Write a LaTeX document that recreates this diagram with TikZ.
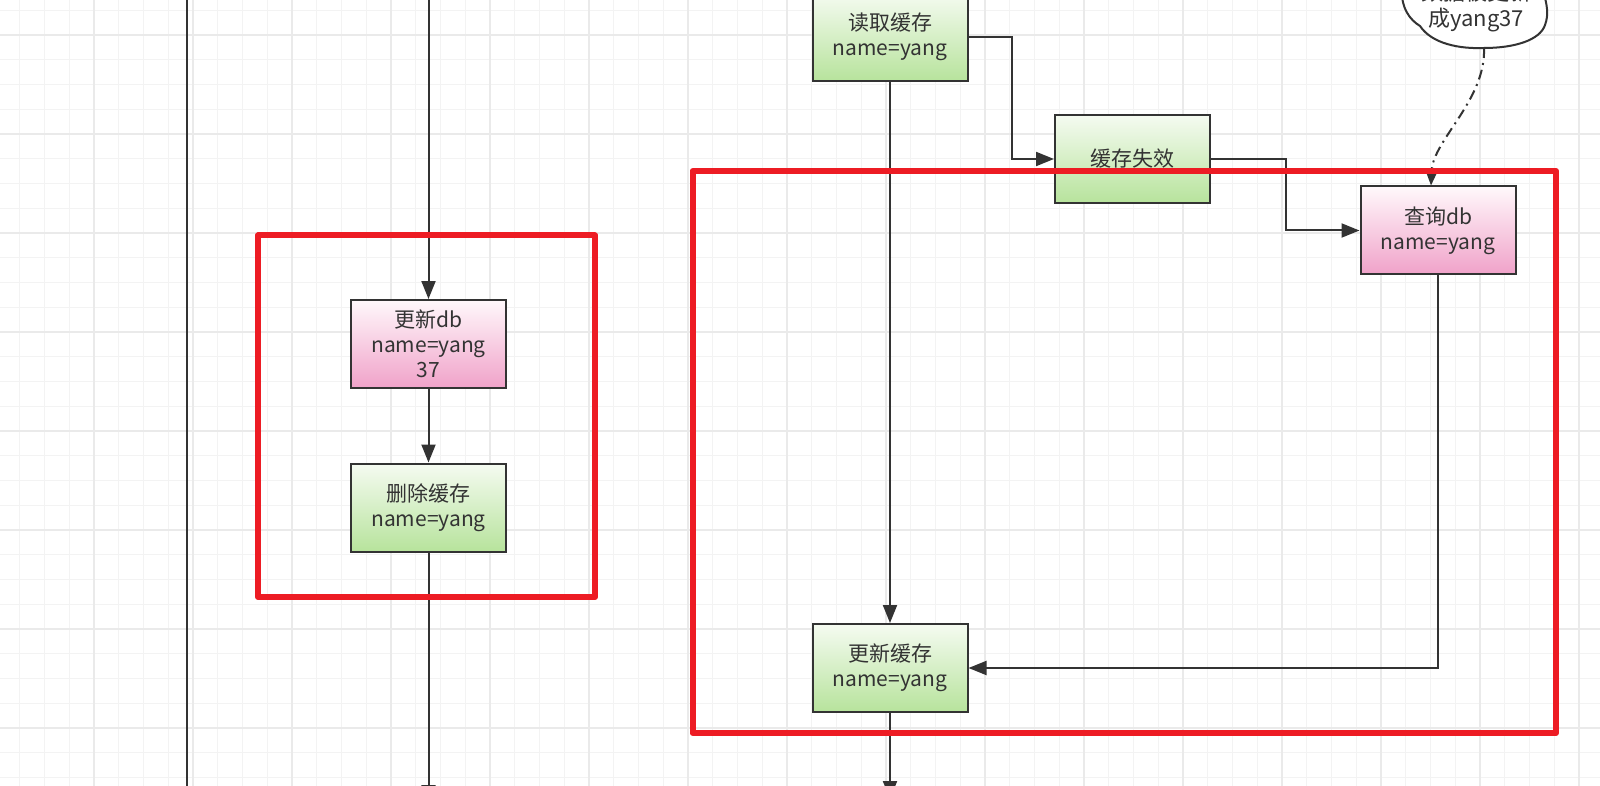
\documentclass[tikz,border=0pt]{standalone}
\usepackage{fontspec}
\newfontfamily\cjk{Noto Sans CJK SC}
\usetikzlibrary{arrows.meta}
\definecolor{gridminor}{HTML}{F3F3F3}
\definecolor{gridmajor}{HTML}{EAEAEA}
\definecolor{ink}{HTML}{333333}
\definecolor{redbox}{RGB}{237,28,36}
\definecolor{greentop}{HTML}{F5FBF1}
\definecolor{greenbot}{HTML}{B7E39C}
\definecolor{pinktop}{HTML}{FFF8FB}
\definecolor{pinkbot}{HTML}{F0A2C9}
\tikzset{
  minorline/.style={gridminor, line width=1.3pt},
  majorline/.style={gridmajor, line width=1.6pt},
  box/.style={draw=ink, line width=2pt, minimum width=155pt, minimum height=88pt,
    inner sep=0pt, align=center, text=ink, font=\cjk\fontsize{21}{25}\selectfont},
  greenbox/.style={box, top color=greentop, bottom color=greenbot},
  pinkbox/.style={box, top color=pinktop, bottom color=pinkbot},
  conn/.style={draw=ink, line width=2pt, -{Triangle[length=18pt,width=14pt]}},
  redframe/.style={draw=redbox, line width=6pt, line join=round},
  dashdot/.style={draw=ink, line width=2pt, dash pattern=on 10pt off 5pt on 2pt off 5pt,
    -{Triangle[length=15pt,width=12pt]}},
}
\begin{document}
\begin{tikzpicture}[x=1pt,y=-1pt]
\useasboundingbox (0,0) rectangle (1600,786);
\clip (0,0) rectangle (1600,786);
\fill[white] (0,0) rectangle (1600,786);
% grid
\foreach \i in {0,...,65} {
  \draw[minorline] ({19.75+\i*24.75},0) -- ({19.75+\i*24.75},786);
}
\foreach \i in {0,...,32} {
  \draw[minorline] (0,{10.25+\i*24.75}) -- (1600,{10.25+\i*24.75});
}
\foreach \i in {0,...,16} {
  \draw[majorline] ({-5+\i*99},0) -- ({-5+\i*99},786);
}
\foreach \i in {0,...,8} {
  \draw[majorline] (0,{35+\i*99}) -- (1600,{35+\i*99});
}
% lane line
\coordinate (laneTop) at (187,-5);
\coordinate (laneBot) at (187,790);
\draw[ink, line width=2pt] (laneTop) -- (laneBot);

% left column
\node[pinkbox] (udb) at (428.5,344) {更新db\\name=yang\\37};
\node[greenbox] (dc) at (428.5,507.5) {删除缓存\\name=yang};
\coordinate (leftTop) at (428.5,-5);
\coordinate (leftBot) at (428.5,803);
\draw[conn] (leftTop) -- (udb.north);
\draw[conn] (udb.south) -- (dc.north);
\draw[conn] (dc.south) -- (leftBot);

% right column
\node[greenbox] (rc) at (890,37) {读取缓存\\name=yang};
\node[greenbox] (inv) at (1132.5,159) {缓存失效};
\node[pinkbox] (qdb) at (1438,230.5) {查询db\\name=yang};
\node[greenbox] (upc) at (890,668) {更新缓存\\name=yang};
\coordinate (rightBot) at (890,799);
\draw[conn] (rc.east) -- ++(43,0) |- (inv.west);
\draw[conn] (inv.east) -- ++(75,0) |- (qdb.west);
\draw[conn] (qdb.south) |- (upc.east);
\draw[conn] (rc.south) -- (upc.north);
\draw[conn] (upc.south) -- (rightBot);

% cloud
\path[draw=ink, fill=white, line width=2pt]
  (1402,-40) -- (1402,-10) .. controls (1401,8) and (1410,20) .. (1420,26)
  .. controls (1432,44) and (1460,49) .. (1484,48)
  .. controls (1515,48) and (1540,40) .. (1545,25)
  .. controls (1549,14) and (1547,5) .. (1543,-10) -- (1543,-40);
\node[inner sep=0pt, align=center, text=ink, font=\cjk\fontsize{22}{26}\selectfont]
  (cloud) at (1476,7) {数据被更新\\成yang37};
\coordinate (cloudBot) at (1484,48);
\draw[dashdot] (cloudBot) .. controls (1486,100) and (1433,140) .. ([xshift=-7pt]qdb.north);

% red frames
\draw[redframe] (258,235.5) rectangle (595,597);
\draw[redframe] (692.5,171) rectangle (1556,733);
\end{tikzpicture}
\end{document}
